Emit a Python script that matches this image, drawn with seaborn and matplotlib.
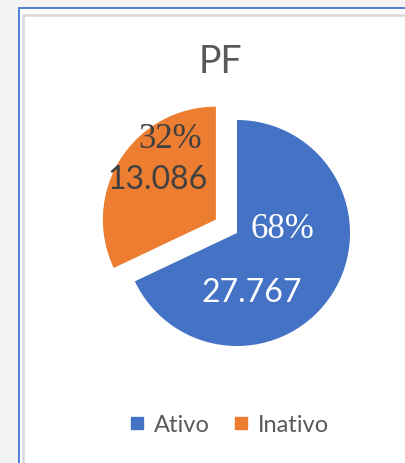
import matplotlib
matplotlib.use('Agg')
import matplotlib.pyplot as plt
from matplotlib.patches import Rectangle
from matplotlib.lines import Line2D
import seaborn as sns

# dados
categorias = ['Ativo', 'Inativo']
valores = [27767, 13086]
cores = ['#4472C4', '#ED7D31']
titulo = 'PF'

sns.set_theme(style='white')
plt.rcParams['font.family'] = ['Lato', 'DejaVu Sans']

W, H = 406, 463
fig = plt.figure(figsize=(W / 100, H / 100), dpi=100, facecolor='#f3f3f3')
ax = fig.add_axes([0, 0, 1, 1])
ax.set_facecolor('none')


def py(y):
    # converte y da imagem (topo = 0) para coordenada do eixo
    return H - y


# moldura do grafico
ax.add_patch(Rectangle((19, py(H + 20)), 420, H + 20 - 8, facecolor='white',
                       edgecolor='#4f7fd4', linewidth=1.4, clip_on=False, zorder=0))
ax.add_patch(Rectangle((23, py(H + 20)), 420, H + 20 - 14.5, facecolor='white',
                       edgecolor='#d9d9d9', linewidth=1.8, clip_on=False, zorder=0))

cx, cy, r = 237, py(233), 113
ax.pie(valores, colors=cores, startangle=90, counterclock=False,
       explode=[0, 25], radius=r, center=(cx, cy),
       wedgeprops=dict(linewidth=0))

total = sum(valores)
pcts = [round(v / total * 100) for v in valores]
nums = [f'{v:,}'.replace(',', '.') for v in valores]

serif = ['Liberation Serif', 'DejaVu Serif']
# rotulos Ativo
ax.text(282, py(229), f'{pcts[0]}%', color='white', fontsize=25, family=serif,
        ha='center', va='center')
ax.text(252, py(293), nums[0], color='white', fontsize=23,
        ha='center', va='center')
# rotulos Inativo
ax.text(170, py(140), f'{pcts[1]}%', color='#404040', fontsize=25, family=serif,
        ha='center', va='center')
ax.text(158, py(180), nums[1], color='#404040', fontsize=23,
        ha='center', va='center')

ax.text(220, py(62), titulo, color='#595959', fontsize=27, ha='center', va='center')

handles = [Line2D([], [], marker='s', linestyle='', markersize=8.5, color=c) for c in cores]
ax.legend(handles, categorias, loc='center', bbox_to_anchor=(230 / W, 1 - 425 / H),
          ncol=2, frameon=False, fontsize=17, handlelength=0.5, handletextpad=0.45,
          columnspacing=1.1, labelcolor='#595959')

ax.set_xlim(0, W)
ax.set_ylim(0, H)
ax.set_aspect('auto')
ax.axis('off')

fig.savefig('out.png', dpi=100, facecolor=fig.get_facecolor())
